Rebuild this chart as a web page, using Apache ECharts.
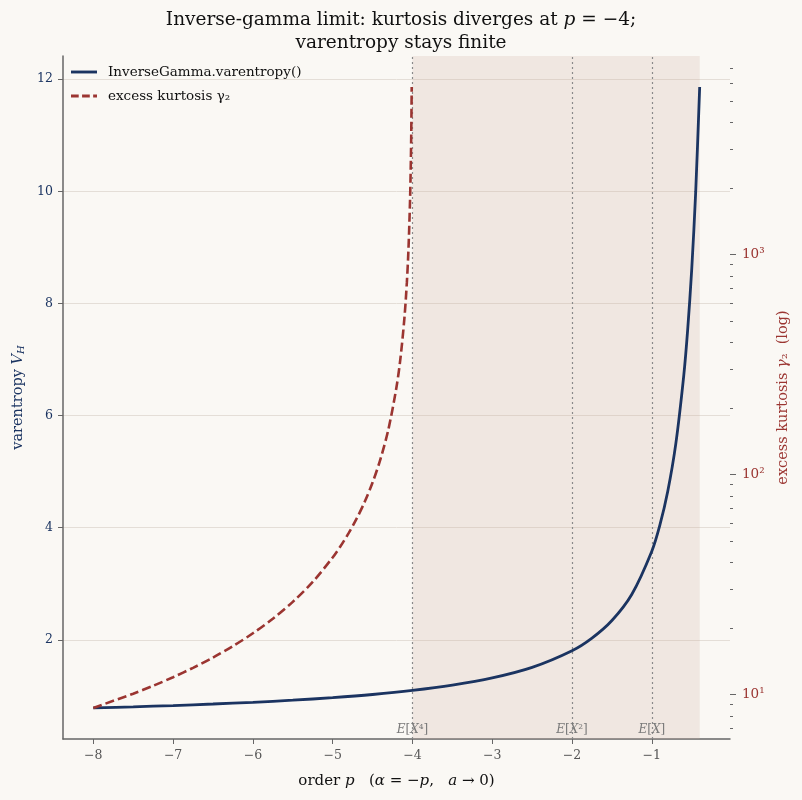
<!DOCTYPE html>
<html>
<head>
<meta charset="utf-8">
<script src="https://cdn.jsdelivr.net/npm/echarts@6/dist/echarts.min.js"></script>
<style>
html,body{margin:0;padding:0;background:#faf8f4;}
#chart{width:802px;height:800px;}
</style>
</head>
<body>
<div id="chart"></div>
<script>
// ---- data ----
const pVar = [-8, -7.5, -7, -6.5, -6, -5.5, -5, -4.5, -4, -3.5, -3, -2.5, -2, -1.75, -1.5, -1.25, -1, -0.9, -0.8, -0.7, -0.6, -0.55, -0.5, -0.45, -0.4];
const varentropy = [0.784, 0.804, 0.827, 0.854, 0.885, 0.922, 0.968, 1.024, 1.096, 1.190, 1.319, 1.507, 1.804, 2.029, 2.343, 2.812, 3.580, 4.040, 4.650, 5.490, 6.709, 7.543, 8.603, 9.989, 11.860];

const pKurt = [-8, -7.5, -7.25, -7, -6.75, -6.5, -6.25, -6, -5.75, -5.5, -5.25, -5, -4.9, -4.8, -4.7, -4.6, -4.5, -4.4, -4.3, -4.2, -4.15, -4.1, -4.07, -4.05, -4.03, -4.02, -4.015, -4.0093];
const kurtosis = [8.70, 10.10, 10.97, 12.00, 13.24, 14.74, 16.62, 19.00, 22.13, 26.40, 32.53, 42.0, 47.37, 54.17, 63.03, 75.0, 92.0, 117.9, 161.5, 250.0, 339.1, 518.2, 749.0, 1057, 1777, 2677, 3576, 5783];

const xTicks = [-8, -7, -6, -5, -4, -3, -2, -1];
const yTicks = [2, 4, 6, 8, 10, 12];
const kurtMajor = [10, 100, 1000];
const kurtMinor = [7, 8, 9, 20, 30, 40, 50, 60, 70, 80, 90, 200, 300, 400, 500, 600, 700, 800, 900, 2000, 3000, 4000, 5000, 6000, 7000];
const momentX = [-4, -2, -1];
const momentLabels = ['{i|E}[{i|X}⁴]', '{i|E}[{i|X}²]', '{i|E}[{i|X}]'];
const shadeRange = [-4, -0.4];

// ---- styling ----
const FONT = 'DejaVu Serif';
const NAVY = '#1b3461';
const RED = '#9b3531';
const X_MIN = -8.38, X_MAX = -0.02;
const Y_MIN = 0.23, Y_MAX = 12.414;
const K_MIN = 6.285, K_MAX = 7990;
const ICON_SOLID = 'path://M0,0h27v3H0z';
const ICON_DASH = 'path://M0,0h8v3H0zM11.5,0h8v3h-8zM23,0h4v3h-4z';

const chart = echarts.init(document.getElementById('chart'), null, {renderer: 'canvas'});

const option = {
  backgroundColor: '#faf8f4',
  animation: false,
  title: {
    text: 'Inverse-gamma limit: kurtosis diverges at {i|p} = −4;\nvarentropy stays finite',
    left: 'center',
    top: 4,
    textStyle: {
      fontFamily: FONT, fontSize: 18.5, fontWeight: 'normal', color: '#111', lineHeight: 23,
      rich: {i: {fontFamily: FONT, fontSize: 18.5, fontStyle: 'italic', color: '#111', lineHeight: 23}}
    }
  },
  grid: {left: 63, right: 72, top: 56, bottom: 61, containLabel: false},
  legend: {
    left: 66, top: 60, orient: 'vertical',
    itemWidth: 26, itemHeight: 3, itemGap: 10,
    textStyle: {fontFamily: FONT, fontSize: 13.5, color: '#111', padding: [0, 0, 0, 6]},
    data: [
      {name: 'InverseGamma.varentropy()', icon: ICON_SOLID},
      {name: 'excess kurtosis γ₂', icon: ICON_DASH}
    ]
  },
  xAxis: {
    type: 'value', min: X_MIN, max: X_MAX,
    axisLine: {lineStyle: {color: '#666', width: 1.5}},
    axisTick: {customValues: xTicks, length: 5, lineStyle: {color: '#666', width: 1}},
    axisLabel: {customValues: xTicks, color: '#555', fontFamily: FONT, fontSize: 12.5, margin: 10,
      formatter: v => (v < 0 ? '−' : '') + Math.abs(v)},
    splitLine: {show: false},
    name: 'order {i|p}   ({i|α} = −{i|p},   {i|a} → 0)',
    nameLocation: 'middle', nameGap: 35,
    nameTextStyle: {fontFamily: FONT, fontSize: 15, color: '#111',
      rich: {i: {fontFamily: FONT, fontSize: 15, fontStyle: 'italic', color: '#111'}}}
  },
  yAxis: [
    {
      type: 'value', position: 'left', min: Y_MIN, max: Y_MAX,
      axisLine: {show: true, lineStyle: {color: '#666', width: 1.5}},
      axisTick: {show: true, customValues: yTicks, length: 5, lineStyle: {color: '#666'}},
      axisLabel: {customValues: yTicks, color: NAVY, fontFamily: FONT, fontSize: 12.5, margin: 10},
      splitLine: {show: true, customValues: yTicks, lineStyle: {color: '#e4ded7', width: 1}},
      name: 'varentropy {i|V}{s|H}', nameLocation: 'middle', nameGap: 36, nameRotate: 90,
      nameTextStyle: {fontFamily: FONT, fontSize: 14.5, color: NAVY,
        rich: {
          i: {fontFamily: FONT, fontSize: 14.5, fontStyle: 'italic', color: NAVY},
          s: {fontFamily: FONT, fontSize: 10, fontStyle: 'italic', color: NAVY, padding: [6, 0, 0, 0]}
        }}
    },
    {
      type: 'log', position: 'right', min: K_MIN, max: K_MAX, logBase: 10,
      axisLine: {show: false},
      axisTick: {show: true, customValues: kurtMajor, length: 6, lineStyle: {color: '#666'}},
      axisLabel: {customValues: kurtMajor, color: RED, fontFamily: FONT, fontSize: 13.5, margin: 12,
        formatter: v => { const e = Math.round(Math.log10(v)); return '10' + ['⁰','¹','²','³','⁴'][e]; }},
      splitLine: {show: false},
      name: 'excess kurtosis {i|γ}₂  (log)', nameLocation: 'middle', nameGap: 46, nameRotate: 90,
      nameTextStyle: {fontFamily: FONT, fontSize: 14.5, color: RED,
        rich: {i: {fontFamily: FONT, fontSize: 14.5, fontStyle: 'italic', color: RED}}}
    },
    {
      type: 'log', position: 'right', min: K_MIN, max: K_MAX, logBase: 10,
      axisLine: {show: false},
      axisTick: {show: true, customValues: kurtMinor, length: 3, lineStyle: {color: '#666'}},
      axisLabel: {show: false},
      splitLine: {show: false}
    }
  ],
  series: [
    {
      name: 'InverseGamma.varentropy()', type: 'line', yAxisIndex: 0,
      data: pVar.map((p, i) => [p, varentropy[i]]),
      symbol: 'none', showSymbol: false, smooth: 0.3,
      lineStyle: {color: NAVY, width: 2.8}, itemStyle: {color: NAVY}, z: 5,
      markArea: {
        silent: true,
        itemStyle: {color: 'rgba(205,175,160,0.22)'},
        data: [[{xAxis: shadeRange[0]}, {xAxis: shadeRange[1]}]]
      },
      markLine: {
        silent: true, symbol: 'none', label: {show: false},
        lineStyle: {color: '#8a8a8a', type: [2, 3], width: 1.2},
        data: momentX.map(x => ({xAxis: x}))
      }
    },
    {
      name: 'excess kurtosis γ₂', type: 'line', yAxisIndex: 1,
      data: pKurt.map((p, i) => [p, kurtosis[i]]),
      symbol: 'none', showSymbol: false, smooth: 0.3,
      lineStyle: {color: RED, width: 2.6, type: [9, 4]}, itemStyle: {color: RED}, z: 5
    },
    {
      type: 'custom', yAxisIndex: 0, silent: true, z: 6,
      data: momentX.map((x, i) => [x, Y_MIN, i]),
      renderItem: (params, api) => {
        const pt = api.coord([api.value(0), Y_MIN]);
        return {
          type: 'text', x: pt[0], y: pt[1] - 3,
          style: {
            text: momentLabels[api.value(2)], align: 'center', verticalAlign: 'bottom',
            fontFamily: FONT, fontSize: 12, fill: '#7a7a7a',
            rich: {i: {fontFamily: FONT, fontSize: 12, fontStyle: 'italic', fill: '#7a7a7a', color: '#7a7a7a'}}
          }
        };
      }
    }
  ]
};
chart.setOption(option);
</script>
</body>
</html>
